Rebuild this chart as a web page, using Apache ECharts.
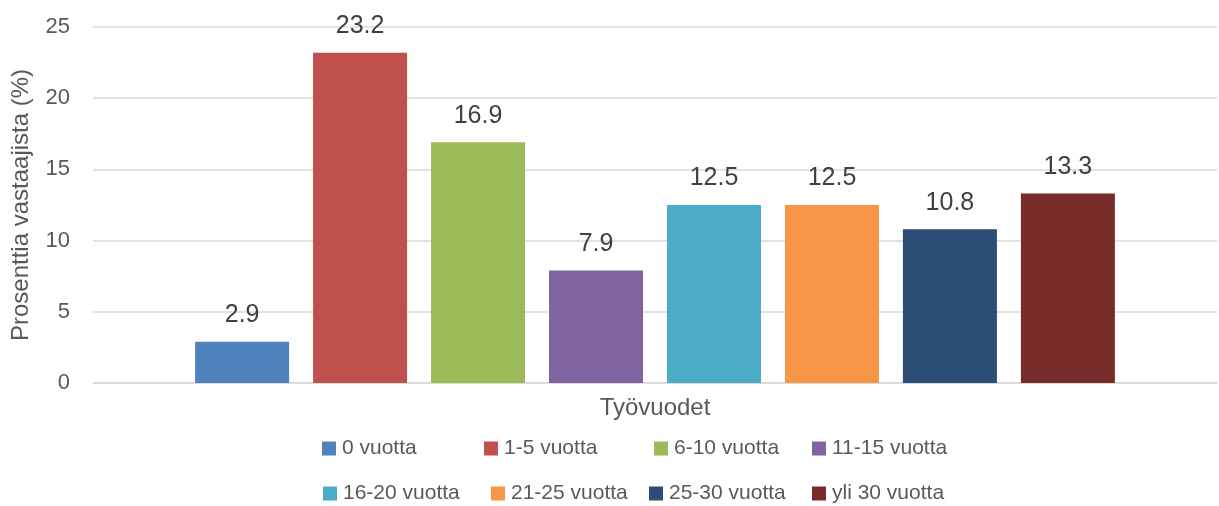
<!DOCTYPE html>
<html>
<head>
<meta charset="utf-8">
<script src="https://cdn.jsdelivr.net/npm/echarts@6/dist/echarts.min.js"></script>
<style>
html,body{margin:0;padding:0;background:#fff;}
#chart{width:1219px;height:506px;}
</style>
</head>
<body>
<div id="chart"></div>
<script>
// ---- data ----
const categories = ['Työvuodet'];
const seriesNames = ['0 vuotta', '1-5 vuotta', '6-10 vuotta', '11-15 vuotta',
                     '16-20 vuotta', '21-25 vuotta', '25-30 vuotta', 'yli 30 vuotta'];
const seriesValues = [2.9, 23.2, 16.9, 7.9, 12.5, 12.5, 10.8, 13.3];
const yAxisTitle = 'Prosenttia vastaajista (%)';
const yMin = 0, yMax = 25, yInterval = 5;

// ---- style ----
const colors = ['#4F81BD', '#C0504D', '#9BBB59', '#8064A2',
                '#4BACC6', '#F79646', '#2C4D75', '#772C2A'];
const FONT = "'Liberation Sans', Arial, sans-serif";
const legendPos = [[322, 438], [484, 438], [654, 438], [812, 438],
                   [323, 483], [491, 483], [649, 483], [812, 483]];

const chart = echarts.init(document.getElementById('chart'), null, {renderer: 'canvas'});

const series = seriesNames.map((name, i) => ({
  name: name,
  type: 'bar',
  data: [seriesValues[i]],
  barWidth: 94,
  barGap: '25.5%',
  itemStyle: {color: colors[i]},
  label: {
    show: true,
    position: 'top',
    distance: 14,
    color: '#404040',
    fontSize: 25,
    fontFamily: FONT,
    formatter: p => p.value.toFixed(1)
  }
}));

const legends = seriesNames.map((name, i) => ({
  data: [name],
  left: legendPos[i][0],
  top: legendPos[i][1],
  padding: 0,
  icon: 'rect',
  itemWidth: 14,
  itemHeight: 14,
  itemGap: 0,
  selectedMode: false,
  textStyle: {color: '#595959', fontSize: 21, fontFamily: FONT, padding: [0, 0, 0, 1]}
}));

chart.setOption({
  animation: false,
  backgroundColor: '#ffffff',
  textStyle: {fontFamily: FONT},
  grid: {left: 93, right: 2, top: 27, bottom: 123, containLabel: false},
  legend: legends,
  xAxis: {
    type: 'category',
    data: categories,
    axisLine: {show: true, lineStyle: {color: '#d9d9d9', width: 1.5}},
    axisTick: {show: false},
    axisLabel: {show: true, color: '#595959', fontSize: 24, fontFamily: FONT, margin: 13}
  },
  yAxis: {
    type: 'value',
    min: yMin,
    max: yMax,
    interval: yInterval,
    name: yAxisTitle,
    nameLocation: 'middle',
    nameGap: 60,
    nameTextStyle: {color: '#595959', fontSize: 24, fontFamily: FONT},
    axisLine: {show: false},
    axisTick: {show: false},
    axisLabel: {color: '#595959', fontSize: 22, fontFamily: FONT, margin: 23},
    splitLine: {lineStyle: {color: '#d9d9d9', width: 1.5}}
  },
  series: series
});
</script>
</body>
</html>
